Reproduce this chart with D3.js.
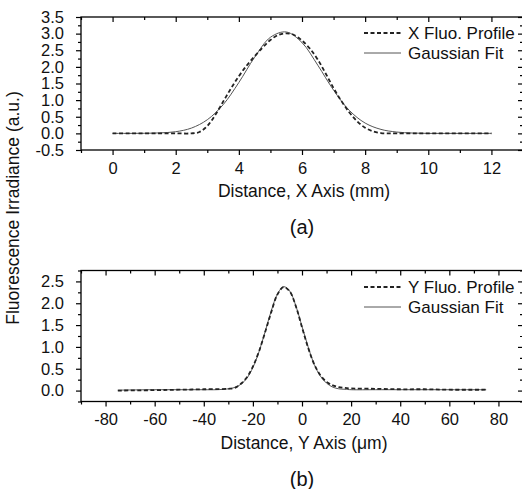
<!DOCTYPE html>
<html>
<head>
<meta charset="utf-8">
<script src="https://cdn.jsdelivr.net/npm/d3@7"></script>
<style>
  html, body { margin: 0; padding: 0; background: #fff; }
  svg { display: block; font-family: "Liberation Sans", Arial, sans-serif; }
</style>
</head>
<body>
<svg id="chart" width="522" height="489"></svg>
<script>
// ---- Panel (a): X axis profile (mm) ----
const xProfileX = [0, 0.5, 1, 1.5, 2, 2.5, 2.75, 3, 3.25, 3.5, 3.75, 4, 4.25, 4.5, 4.75, 5, 5.25, 5.5, 5.75, 6, 6.25, 6.5, 6.75, 7, 7.25, 7.5, 7.75, 8, 8.25, 8.5, 8.75, 9, 9.5, 10, 10.5, 11, 11.5, 12];
const xProfileY = [0, 0, 0, 0, 0, 0, 0.04, 0.22, 0.55, 0.95, 1.35, 1.72, 2.04, 2.32, 2.58, 2.81, 2.96, 3.01, 2.96, 2.79, 2.55, 2.22, 1.80, 1.36, 0.97, 0.63, 0.36, 0.17, 0.06, 0.01, 0, 0, 0, 0, 0, 0, 0, 0];
const xFitX = [0, 0.5, 1, 1.5, 2, 2.5, 3, 3.5, 4, 4.5, 5, 5.5, 6, 6.5, 7, 7.5, 8, 8.5, 9, 9.5, 10, 10.5, 11, 11.5, 12];
const xFitY = [0, 0, 0.003, 0.015, 0.05, 0.16, 0.41, 0.86, 1.53, 2.29, 2.89, 3.05, 2.73, 2.05, 1.30, 0.69, 0.31, 0.12, 0.04, 0.01, 0, 0, 0, 0, 0];

// ---- Panel (b): Y axis profile (µm) ----
const yProfileX = [-75, -60, -50, -40, -30, -27.5, -25, -22.5, -20, -17.5, -15, -12.5, -10, -7.5, -5, -2.5, 0, 2.5, 5, 7.5, 10, 12.5, 15, 17.5, 20, 30, 40, 50, 60, 75];
const yProfileY = [0, 0.01, 0.02, 0.03, 0.04, 0.06, 0.15, 0.30, 0.55, 0.90, 1.34, 1.80, 2.20, 2.37, 2.27, 1.93, 1.45, 0.98, 0.60, 0.35, 0.20, 0.12, 0.08, 0.06, 0.05, 0.04, 0.03, 0.03, 0.02, 0.02];
const yFitX = [-75, -60, -50, -40, -35, -30, -27.5, -25, -22.5, -20, -17.5, -15, -12.5, -10, -7.5, -5, -2.5, 0, 2.5, 5, 7.5, 10, 12.5, 15, 17.5, 20, 30, 40, 60, 75];
const yFitY = [0.01, 0.02, 0.02, 0.02, 0.02, 0.04, 0.07, 0.14, 0.28, 0.53, 0.89, 1.35, 1.83, 2.21, 2.38, 2.28, 1.94, 1.47, 1.00, 0.60, 0.33, 0.17, 0.08, 0.04, 0.03, 0.02, 0.02, 0.02, 0.02, 0.02];

// Tick values
const aXMajor = [0, 2, 4, 6, 8, 10, 12];
const aXMinor = [-1, 1, 3, 5, 7, 9, 11, 13];
const aYMajor = [-0.5, 0, 0.5, 1, 1.5, 2, 2.5, 3, 3.5];
const aYMinor = [-0.25, 0.25, 0.75, 1.25, 1.75, 2.25, 2.75, 3.25];
const bXMajor = [-80, -60, -40, -20, 0, 20, 40, 60, 80];
const bXMinor = [-90, -70, -50, -30, -10, 10, 30, 50, 70, 90];
const bYMajor = [0, 0.5, 1, 1.5, 2, 2.5];
const bYMinor = [-0.25, 0.25, 0.75, 1.25, 1.75, 2.25, 2.75];

const svg = d3.select("#chart");
const left = 81, right = 523;

// plain hyphen-minus labels
const fmtX = d => String(d);
const fmtY = d => d.toFixed(1);

function panel(cfg) {
  const x = d3.scaleLinear().domain(cfg.xDomain).range([left, right]);
  const y = d3.scaleLinear().domain(cfg.yDomain).range([cfg.bottom, cfg.top]);
  const g = svg.append("g");

  function styleAxis(sel) {
    sel.select(".domain").remove();
    sel.selectAll("line").attr("stroke", "#000").attr("stroke-width", 1.2);
    sel.selectAll("text").attr("fill", "#111").style("font-size", "16.5px").attr("font-family", null);
  }

  // bottom axis (outward ticks)
  g.append("g").attr("transform", `translate(0,${cfg.bottom})`)
    .call(d3.axisBottom(x).tickValues(cfg.xMajor).tickSize(5).tickPadding(7).tickFormat(fmtX))
    .call(styleAxis);
  g.append("g").attr("transform", `translate(0,${cfg.bottom})`)
    .call(d3.axisBottom(x).tickValues(cfg.xMinor).tickSize(3).tickFormat(""))
    .call(styleAxis);
  // top axis (inward ticks)
  g.append("g").attr("transform", `translate(0,${cfg.top})`)
    .call(d3.axisTop(x).tickValues(cfg.xMajor).tickSize(-5).tickFormat(""))
    .call(styleAxis);
  g.append("g").attr("transform", `translate(0,${cfg.top})`)
    .call(d3.axisTop(x).tickValues(cfg.xMinor).tickSize(-3).tickFormat(""))
    .call(styleAxis);
  // left axis (outward ticks)
  g.append("g").attr("transform", `translate(${left},0)`)
    .call(d3.axisLeft(y).tickValues(cfg.yMajor).tickSize(5).tickPadding(12).tickFormat(fmtY))
    .call(styleAxis);
  g.append("g").attr("transform", `translate(${left},0)`)
    .call(d3.axisLeft(y).tickValues(cfg.yMinor).tickSize(3).tickFormat(""))
    .call(styleAxis);
  // right axis (inward ticks)
  g.append("g").attr("transform", `translate(${right},0)`)
    .call(d3.axisRight(y).tickValues(cfg.yMajor).tickSize(-5).tickFormat(""))
    .call(styleAxis);
  g.append("g").attr("transform", `translate(${right},0)`)
    .call(d3.axisRight(y).tickValues(cfg.yMinor).tickSize(-3).tickFormat(""))
    .call(styleAxis);

  // frame
  g.append("rect")
    .attr("x", left).attr("y", cfg.top)
    .attr("width", right - left).attr("height", cfg.bottom - cfg.top)
    .attr("fill", "none").attr("stroke", "#000").attr("stroke-width", 1.3);

  const line = d3.line().x(d => x(d[0])).y(d => y(d[1])).curve(d3.curveCatmullRom.alpha(0.5));

  // Gaussian fit (thin solid grey)
  g.append("path")
    .datum(d3.zip(cfg.fitX, cfg.fitY))
    .attr("d", line)
    .attr("fill", "none").attr("stroke", "#555").attr("stroke-width", 1);
  // measured profile (dashed black)
  g.append("path")
    .datum(d3.zip(cfg.profX, cfg.profY))
    .attr("d", line)
    .attr("fill", "none").attr("stroke", "#222").attr("stroke-width", 1.8)
    .attr("stroke-dasharray", "4,2.5");

  // legend
  const lg = g.append("g");
  lg.append("line").attr("x1", 364).attr("x2", 401).attr("y1", cfg.legY).attr("y2", cfg.legY)
    .attr("stroke", "#222").attr("stroke-width", 1.8).attr("stroke-dasharray", "4,2.5");
  lg.append("text").attr("x", 408).attr("y", cfg.legY).attr("dy", "0.35em")
    .style("font-size", "17px").attr("fill", "#111").text(cfg.profName);
  lg.append("line").attr("x1", 364).attr("x2", 401).attr("y1", cfg.legY + 20).attr("y2", cfg.legY + 20)
    .attr("stroke", "#555").attr("stroke-width", 1);
  lg.append("text").attr("x", 408).attr("y", cfg.legY + 20).attr("dy", "0.35em")
    .style("font-size", "17px").attr("fill", "#111").text("Gaussian Fit");

  // axis title and panel tag
  g.append("text").attr("x", 304).attr("y", cfg.bottom + 41).attr("dy", "0.35em")
    .attr("text-anchor", "middle").style("font-size", "17.5px").attr("fill", "#111").text(cfg.xTitle);
  g.append("text").attr("x", 302).attr("y", cfg.bottom + 77).attr("dy", "0.35em")
    .attr("text-anchor", "middle").style("font-size", "20px").attr("fill", "#111").text(cfg.tag);
}

panel({
  xDomain: [-1, 13], yDomain: [-0.5, 3.5], top: 17, bottom: 150,
  xMajor: aXMajor, xMinor: aXMinor, yMajor: aYMajor, yMinor: aYMinor,
  profX: xProfileX, profY: xProfileY, fitX: xFitX, fitY: xFitY,
  profName: "X Fluo. Profile", legY: 33,
  xTitle: "Distance, X Axis (mm)", tag: "(a)"
});

panel({
  xDomain: [-90, 90], yDomain: [-0.25, 2.75], top: 270.5, bottom: 401.5,
  xMajor: bXMajor, xMinor: bXMinor, yMajor: bYMajor, yMinor: bYMinor,
  profX: yProfileX, profY: yProfileY, fitX: yFitX, fitY: yFitY,
  profName: "Y Fluo. Profile", legY: 287,
  xTitle: "Distance, Y Axis (\u03bcm)", tag: "(b)"
});

// shared y-axis title
svg.append("text")
  .attr("transform", "translate(13,208) rotate(-90)")
  .attr("text-anchor", "middle").attr("dy", "0.35em")
  .style("font-size", "17.5px").attr("fill", "#111")
  .text("Fluorescence Irradiance (a.u.)");
</script>
</body>
</html>
